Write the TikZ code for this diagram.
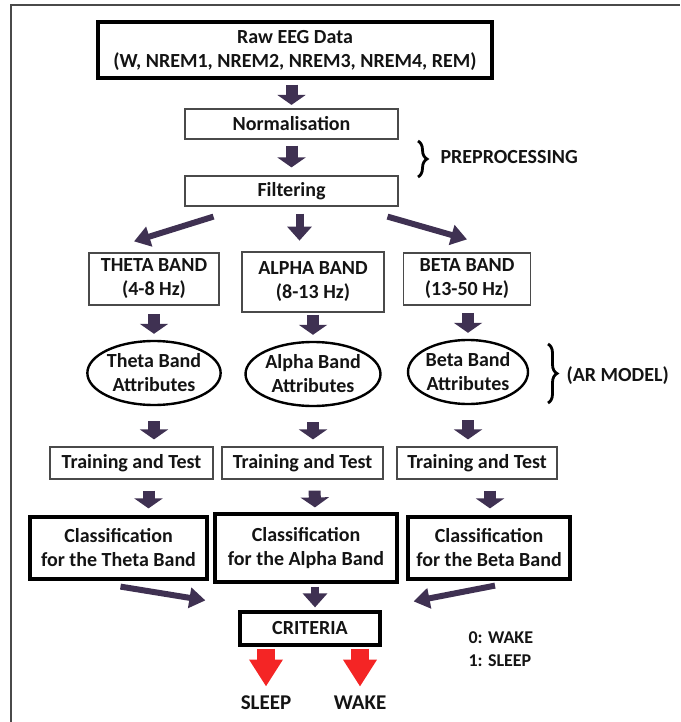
\documentclass[tikz,border=0pt]{standalone}
\usepackage{fontspec}
\setmainfont{Carlito}
\usetikzlibrary{arrows.meta, calc, shapes.geometric, decorations.pathreplacing}

\definecolor{arrowPurple}{HTML}{3F3152}
\definecolor{arrowRed}{HTML}{F42525}
\definecolor{boxGray}{HTML}{4A4A4A}
\definecolor{textBlack}{HTML}{141414}

\begin{document}
\begin{tikzpicture}[
    x=1pt, y=-1pt,
    font=\bfseries\fontsize{20}{24}\selectfont,
    text=textBlack,
    thinbox/.style={draw=boxGray, line width=1.2pt, inner sep=0pt, align=center},
    thickbox/.style={draw=black, line width=3.2pt, inner sep=0pt, align=center},
    attrib/.style={ellipse, draw=black, line width=2.4pt, inner sep=0pt, align=center},
    blockarrow/.style={arrowPurple, line width=12pt, -{Triangle[length=10pt, width=28pt]}},
    slantarrow/.style={arrowPurple, line width=6pt, -{Triangle[length=16pt, width=20pt]}},
    redarrow/.style={arrowRed, line width=18pt, -{Triangle[length=27pt, width=32pt]}},
    bracket/.style={decorate, decoration={brace, amplitude=9pt}, line width=2.8pt}
]

    \useasboundingbox (0,0) rectangle (680,722);

    % Frame (open at right and bottom)
    \draw[boxGray, line width=2pt] (10.5,722) -- (10.5,5.5) -- (680,5.5);

    % 1. Preprocessing
    \node[thickbox, minimum width=394, minimum height=56] (raw) at (295,50)
        {Raw EEG Data\\(W, NREM1, NREM2, NREM3, NREM4, REM)};
    \node[thinbox, minimum width=213, minimum height=30] (norm) at (291.5,124) {Normalisation};
    \node[thinbox, minimum width=213, minimum height=30] (filt) at (291.5,191) {Filtering};

    \draw[blockarrow, shorten <=5pt, shorten >=3.5pt] (norm.north |- raw.south) -- (norm.north);
    \draw[blockarrow, shorten <=6pt, shorten >=8pt] (norm.south) -- (filt.north);

    \draw[bracket] (418,141) -- (418,177);
    \node[anchor=west] (pre) at (437,157) {PREPROCESSING};

    % 2. Frequency bands
    \node[thinbox, minimum width=130, minimum height=52] (thetab) at (154,279) {THETA BAND\\(4-8 Hz)};
    \node[thinbox, minimum width=142, minimum height=60] (alphab) at (313,282) {ALPHA BAND\\(8-13 Hz)};
    \node[thinbox, minimum width=127, minimum height=52] (betab) at (467,279) {BETA BAND\\(13-50 Hz)};

    \draw[slantarrow] ($(filt.south)+(-78,10)$) -- ($(thetab.north)+(-20,-11)$);
    \draw[slantarrow, line width=8pt, -{Triangle[length=14pt, width=24pt]}]
        ($(filt.south)+(8,7)$) -- ($(filt.south)+(8,34)$);
    \draw[slantarrow] ($(filt.south)+(96,10)$) -- ($(betab.north)+(0,-13)$);

    % 3. AR model attributes
    \node[attrib, minimum width=112, minimum height=64] (thetae) at (154,373) {Theta Band\\Attributes};
    \node[attrib, minimum width=120, minimum height=64] (alphae) at (313,374) {Alpha Band\\Attributes};
    \node[attrib, minimum width=120, minimum height=64] (betae) at (468,372) {Beta Band\\Attributes};

    \foreach \b in {theta, alpha, beta} {
        \draw[blockarrow] ($(\b e.north)+(0,-26)$) -- ($(\b e.north)+(0,-6)$);
    }

    \draw[bracket] (548,344) -- (548,403);
    \node[anchor=west] (ar) at (563,376) {(AR MODEL)};

    % 4. Training
    \node[thinbox, minimum width=163, minimum height=32] (thetat) at (131.5,463) {Training and Test};
    \node[thinbox, minimum width=161, minimum height=32] (alphat) at (302.5,463) {Training and Test};
    \node[thinbox, minimum width=160, minimum height=32] (betat) at (477,463) {Training and Test};

    \foreach \b in {theta, alpha, beta} {
        \draw[blockarrow, shorten <=15pt, shorten >=7pt] (\b e.south) -- (\b e.south |- \b t.north);
    }

    % 5. Classification
    \node[thickbox, minimum width=177, minimum height=62] (thetac) at (118.5,548) {Classification\\for the Theta Band};
    \node[thickbox, minimum width=182, minimum height=68] (alphac) at (306,548) {Classification\\for the Alpha Band};
    \node[thickbox, minimum width=162, minimum height=62] (betac) at (489,548) {Classification\\for the Beta Band};

    \draw[blockarrow, shorten <=11pt, shorten >=7pt] ($(thetat.south)+(17,0)$) -- ($(thetac.north)+(30,0)$);
    \draw[blockarrow, shorten <=11pt, shorten >=5pt] ($(alphat.south)+(12,0)$) -- ($(alphac.north)+(9,0)$);
    \draw[blockarrow, shorten <=11pt, shorten >=7pt] ($(betat.south)+(13,0)$) -- ($(betac.north)+(1,0)$);

    % 6. Criteria and decision
    \node[thickbox, minimum width=140, minimum height=33] (crit) at (310,628.5) {CRITERIA};

    \draw[slantarrow] ($(thetac.south)+(2,6)$) -- ($(crit.north west)+(-33,-10)$);
    \draw[slantarrow, line width=8pt, -{Triangle[length=14pt, width=24pt]}, shorten <=3pt, shorten >=3pt]
        ($(alphac.south)+(9,0)$) -- ($(crit.north)+(5,0)$);
    \draw[slantarrow] ($(betac.south)+(6,5)$) -- ($(crit.north east)+(32,-9)$);

    \node[font=\bfseries\fontsize{21}{24}\selectfont] (sleep) at (266,703) {SLEEP};
    \node[font=\bfseries\fontsize{21}{24}\selectfont] (wake) at (360,703) {WAKE};

    \draw[redarrow, shorten <=2pt, shorten >=6pt] (sleep.north |- crit.south) -- (sleep.north);
    \draw[redarrow, shorten <=2pt, shorten >=6pt] (wake.north |- crit.south) -- (wake.north);

    \node[anchor=west, font=\fontsize{18}{22}\selectfont\bfseries] (wakekey) at (465,638) {0: WAKE};
    \node[anchor=west, font=\fontsize{18}{22}\selectfont\bfseries] (sleepkey) at (465,661) {1: SLEEP};

\end{tikzpicture}
\end{document}
